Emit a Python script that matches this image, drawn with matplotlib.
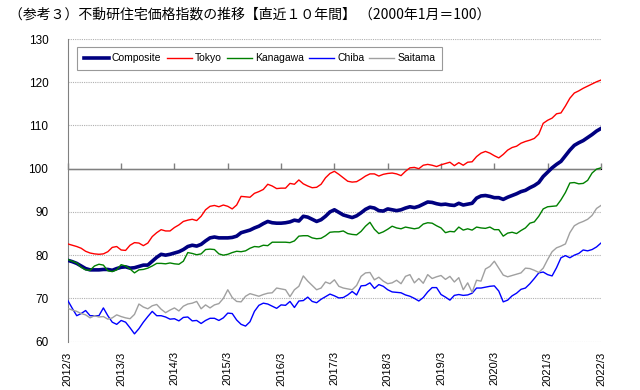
import matplotlib
matplotlib.use("Agg")
import matplotlib.pyplot as plt
import numpy as np

# monthly index values, 2012/3 .. 2022/3 (2000/1 = 100)
composite = [
    78.8, 78.5, 78.1, 77.5, 76.9, 76.6, 76.6, 76.6, 76.7, 76.7, 76.5, 76.9,
    77.2, 77.3, 77.0, 77.1, 77.4, 77.7, 77.7, 78.6, 79.5, 80.2, 80.0, 80.2,
    80.5, 80.8, 81.3, 82.0, 82.3, 82.1, 82.5, 83.3, 84.0, 84.2, 84.0, 84.0,
    84.0, 84.1, 84.4, 85.2, 85.5, 85.8, 86.3, 86.7, 87.3, 87.8, 87.5, 87.4,
    87.4, 87.5, 87.7, 88.1, 87.9, 89.0, 88.8, 88.3, 87.8, 88.2, 89.0, 90.0,
    90.5, 89.9, 89.3, 89.0, 88.7, 89.1, 89.8, 90.6, 91.1, 90.9, 90.3, 90.2,
    90.7, 90.5, 90.3, 90.5, 90.9, 91.2, 91.0, 91.3, 91.8, 92.3, 92.2, 91.9,
    91.7, 91.8, 91.6, 91.5, 92.0, 91.6, 91.8, 92.0, 93.2, 93.7, 93.8, 93.6,
    93.3, 93.3, 92.9, 93.4, 93.8, 94.2, 94.7, 95.0, 95.6, 96.1, 96.8, 98.2,
    99.2, 100.2, 101.0, 101.7, 103.0, 104.3, 105.4, 106.0, 106.5, 107.2, 107.9, 108.7,
    109.3]
tokyo = [
    82.6, 82.3, 82.0, 81.6, 80.9, 80.5, 80.3, 80.2, 80.3, 80.8, 81.8, 82.0,
    81.2, 81.1, 82.3, 82.9, 82.8, 82.2, 82.8, 84.3, 85.2, 85.9, 85.6, 85.6,
    86.4, 87.0, 87.8, 88.1, 88.3, 88.0, 89.0, 90.5, 91.3, 91.5, 91.2, 91.6,
    91.3, 90.7, 91.6, 93.6, 93.5, 93.4, 94.3, 94.7, 95.2, 96.4, 96.0, 95.4,
    95.5, 95.5, 96.6, 96.4, 97.4, 96.5, 96.0, 95.6, 95.7, 96.4, 97.9, 98.9,
    99.4, 98.7, 97.9, 97.1, 96.9, 97.0, 97.6, 98.3, 98.8, 98.8, 98.3, 98.7,
    98.9, 99.0, 98.8, 98.4, 99.4, 100.2, 100.3, 100.0, 100.8, 101.0, 100.8, 100.5,
    100.9, 101.2, 101.5, 100.7, 101.4, 100.8, 101.5, 101.6, 102.8, 103.6, 104.0, 103.6,
    103.0, 102.5, 103.3, 104.3, 104.9, 105.2, 105.9, 106.3, 106.6, 107.0, 108.0, 110.5,
    111.2, 111.7, 112.7, 112.9, 114.5, 116.3, 117.5, 118.0, 118.6, 119.1, 119.6, 120.1,
    120.5]
kanagawa = [
    79.0, 78.6, 78.2, 77.2, 76.6, 76.5, 77.5, 77.9, 77.7, 76.4, 76.2, 76.6,
    77.8, 77.5, 76.8, 75.9, 76.6, 76.7, 77.0, 77.5, 78.1, 78.1, 78.0, 78.2,
    78.0, 77.9, 78.6, 80.6, 80.4, 80.1, 80.3, 81.3, 81.4, 81.3, 80.3, 80.0,
    80.2, 80.6, 80.9, 80.8, 81.0, 81.6, 82.0, 81.9, 82.3, 82.2, 83.0, 83.0,
    83.0, 83.0, 82.9, 83.3, 84.4, 84.5, 84.5, 84.0, 83.8, 83.9, 84.5, 85.3,
    85.4, 85.4, 85.6, 85.0, 84.8, 84.7, 85.5, 86.7, 87.6, 86.0, 85.0, 85.4,
    86.0, 86.7, 86.3, 86.1, 86.5, 86.3, 86.1, 86.3, 87.2, 87.5, 87.4, 86.8,
    86.3, 85.2, 85.5, 85.4, 86.5, 85.8, 86.1, 85.8, 86.5, 86.3, 86.2, 86.5,
    85.9, 85.9, 84.4, 85.1, 85.3, 85.0, 85.7, 86.3, 87.4, 87.7, 89.0, 90.7,
    91.2, 91.3, 91.4, 92.8, 94.5, 96.7, 96.8, 96.5, 96.6, 97.3, 99.0, 99.9,
    100.2]
chiba = [
    69.5, 67.7, 66.0, 66.5, 67.2, 66.0, 66.0, 66.0, 67.8, 66.0, 64.5, 64.0,
    64.9, 64.5, 63.2, 61.8, 63.0, 64.5, 65.8, 67.0, 66.0, 66.0, 65.7, 65.2,
    65.3, 64.8, 65.6, 65.7, 64.8, 64.9, 64.2, 64.9, 65.4, 65.4, 64.9, 65.5,
    66.6, 66.5, 65.0, 64.0, 63.6, 64.6, 67.0, 68.4, 68.9, 68.7, 68.2, 67.7,
    68.5, 68.4, 69.3, 67.9, 69.4, 69.5, 70.3, 69.3, 69.0, 69.8, 70.4, 71.0,
    70.6, 70.1, 70.2, 70.8, 71.6, 70.8, 72.9, 73.0, 73.6, 72.3, 73.2, 72.8,
    72.0, 71.5, 71.4, 71.3, 70.8, 70.5, 70.0, 69.4, 70.2, 71.5, 72.5, 72.5,
    70.9, 70.3, 69.6, 70.7, 70.9, 70.7, 70.8, 71.2, 72.4, 72.4, 72.6, 72.8,
    72.9, 71.7, 69.2, 69.6, 70.6, 71.2, 72.1, 72.4, 73.4, 74.6, 75.9, 76.1,
    75.5, 75.2, 77.1, 79.4, 79.9, 79.4, 80.0, 80.4, 81.2, 81.0, 81.3, 81.9,
    82.8]
saitama = [
    67.7, 67.3, 67.0, 66.5, 66.2, 65.5, 66.0, 65.7, 65.8, 65.2, 65.5, 66.2,
    65.8, 65.5, 65.3, 66.3, 68.7, 68.0, 67.6, 68.3, 68.6, 67.5, 66.7, 67.3,
    67.8, 67.1, 68.2, 68.7, 68.9, 69.3, 67.6, 68.5, 67.8, 68.5, 68.8, 70.0,
    72.0, 70.2, 69.3, 69.2, 70.5, 71.1, 70.8, 70.5, 70.9, 71.2, 71.3, 72.4,
    72.2, 72.0, 70.4, 72.0, 72.8, 75.2, 74.0, 73.0, 72.0, 72.4, 73.8, 73.4,
    74.3, 72.8, 72.4, 72.2, 72.0, 73.0, 75.1, 75.9, 76.0, 74.3, 74.9, 74.0,
    73.4, 73.6, 74.2, 73.4, 75.1, 75.5, 73.6, 74.6, 73.5, 75.5, 74.6, 75.0,
    75.3, 74.4, 75.1, 73.8, 74.8, 72.0, 73.6, 71.4, 74.2, 74.0, 76.8, 77.4,
    78.6, 77.0, 75.4, 75.0, 75.3, 75.6, 75.9, 77.0, 76.9, 76.5, 76.0, 77.0,
    79.0, 80.8, 81.7, 82.1, 82.6, 85.2, 86.8, 87.4, 87.8, 88.3, 89.2, 90.8,
    91.5]

year_labels = ['2012/3', '2013/3', '2014/3', '2015/3', '2016/3', '2017/3',
               '2018/3', '2019/3', '2020/3', '2021/3', '2022/3']

title = '（参考３）不動研住宅価格指数の推移【直近１０年間】 （2000年1月＝100）'

months = np.arange(len(composite))
year_ticks = months[::12]

fig = plt.figure(figsize=(6.4, 3.9), dpi=100)
ax = fig.add_axes([0.106, 0.124, 0.833, 0.776])

series = [
    ('Composite', composite, '#000080', 2.6),
    ('Tokyo', tokyo, '#ff0000', 1.0),
    ('Kanagawa', kanagawa, '#008000', 1.0),
    ('Chiba', chiba, '#0000ff', 1.0),
    ('Saitama', saitama, '#a0a0a0', 1.0),
]
for name, vals, color, lw in series:
    ax.plot(months, vals, color=color, lw=lw, label=name, zorder=3)

ax.set_xlim(months[0], months[-1])
ax.set_ylim(60, 130)
ax.set_yticks(np.arange(60, 131, 10))

# dotted gridlines, solid line at 100 where the category axis crosses
for v in np.arange(60, 131, 10):
    if v == 100:
        ax.axhline(v, color='#808080', lw=1.0, zorder=2)
    else:
        ax.axhline(v, color='#b0b0b0', lw=0.8, ls=(0, (1, 1)), zorder=1)

for s in ['top', 'right', 'bottom']:
    ax.spines[s].set_visible(False)
ax.spines['left'].set_color('#808080')

ax.set_xticks(year_ticks)
ax.set_xticklabels(year_labels, rotation=90, fontsize=8, family='Liberation Sans')
ax.tick_params(axis='x', length=0, pad=7)
ax.tick_params(axis='y', length=0, pad=14, labelsize=8.5)
for lab in ax.get_yticklabels():
    lab.set_family('Liberation Sans')

# tick marks sit on the 100 line
sec = ax.secondary_xaxis((100 - 60) / 70)
sec.set_xticks(year_ticks)
sec.set_xticklabels([])
sec.tick_params(axis='x', direction='out', length=4, width=1, color='#808080')
sec.spines['bottom'].set_visible(False)

leg = ax.legend(loc='upper left', bbox_to_anchor=(0.017, 0.975), ncol=5,
                frameon=True, fancybox=False, edgecolor='#808080',
                borderaxespad=0, handlelength=2.4, handletextpad=0.3,
                columnspacing=0.5, borderpad=0.65,
                prop={'family': 'Liberation Sans', 'size': 7.5})
leg.get_frame().set_linewidth(0.8)

fig.text(0.014, 0.962, title, fontsize=10, va='center', ha='left',
         family=['Noto Sans CJK JP', 'DejaVu Sans'])

fig.savefig('out.png', dpi=100)
